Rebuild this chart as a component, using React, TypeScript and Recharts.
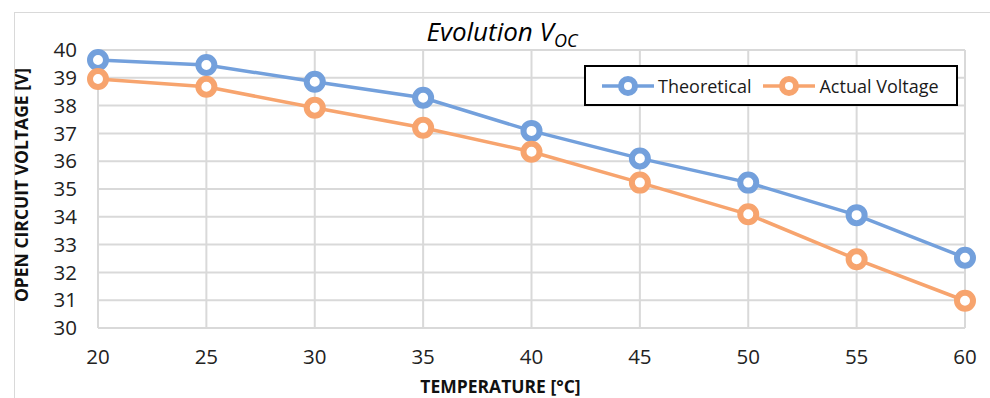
import { LineChart, Line, XAxis, YAxis, CartesianGrid, Label } from 'recharts'

const temperatures = [20, 25, 30, 35, 40, 45, 50, 55, 60]
const theoretical = [39.64, 39.46, 38.86, 38.28, 37.09, 36.1, 35.23, 34.06, 32.53]
const actualVoltage = [38.96, 38.68, 37.92, 37.2, 36.34, 35.23, 34.09, 32.47, 30.98]
const yTicks = [30, 31, 32, 33, 34, 35, 36, 37, 38, 39, 40]

const BLUE = '#73a0dc'
const ORANGE = '#f7a46e'
const FONT = '"Open Sans", sans-serif'

const series = [
  { key: 'theoretical', name: 'Theoretical', color: BLUE },
  { key: 'actual', name: 'Actual Voltage', color: ORANGE },
]

const data = temperatures.map((t, i) => ({
  temp: t,
  theoretical: theoretical[i],
  actual: actualVoltage[i],
}))

function LegendBox() {
  return (
    <div
      style={{
        position: 'absolute',
        left: 584,
        top: 65,
        width: 374,
        height: 41,
        border: '2px solid #000',
        display: 'flex',
        alignItems: 'center',
        paddingLeft: 16,
        fontFamily: FONT,
        fontSize: 18,
        color: '#1a1a1a',
        boxSizing: 'border-box',
        background: '#fff',
      }}
    >
      {series.map((s) => (
        <div key={s.key} style={{ display: 'flex', alignItems: 'center', marginRight: 12 }}>
          <svg width={52} height={24} style={{ marginRight: 4 }}>
            <line x1={0} y1={12} x2={52} y2={12} stroke={s.color} strokeWidth={3.5} />
            <circle cx={26} cy={12} r={7} fill="#fff" stroke={s.color} strokeWidth={6} />
          </svg>
          <span>{s.name}</span>
        </div>
      ))}
    </div>
  )
}

export default function App() {
  return (
    <div style={{ position: 'absolute', left: 0, top: 0, width: 990, height: 398, overflow: 'hidden', background: '#fff' }}>
      <div
        style={{
          position: 'absolute',
          left: 14,
          top: 12,
          width: 1000,
          height: 420,
          border: '1px solid #d9d9d9',
        }}
      />
      <div
        style={{
          position: 'absolute',
          left: 0,
          width: 1004,
          top: 13,
          textAlign: 'center',
          fontFamily: FONT,
          fontStyle: 'italic',
          fontSize: 26,
          color: '#000',
        }}
      >
        Evolution V<sub style={{ fontSize: 18 }}>OC</sub>
      </div>
      <LineChart
        width={990}
        height={398}
        data={data}
        margin={{ top: 50, right: 25, bottom: 0, left: 0 }}
        style={{ position: 'absolute', left: 0, top: 0 }}
      >
        <CartesianGrid stroke="#d9d9d9" strokeWidth={2} />
        <XAxis
          dataKey="temp"
          type="number"
          domain={[20, 60]}
          ticks={temperatures}
          height={70}
          tickSize={0}
          tickMargin={21}
          axisLine={false}
          tick={{ fontSize: 20.5, fill: '#222', fontFamily: FONT }}
        >
          <Label
            value="TEMPERATURE [°C]"
            position="insideBottom"
            offset={5}
            dx={-31}
            style={{ fontSize: 17.5, fontWeight: 700, fill: '#111', fontFamily: FONT }}
          />
        </XAxis>
        <YAxis
          type="number"
          domain={[30, 40]}
          ticks={yTicks}
          width={98}
          tickSize={0}
          tickMargin={21}
          axisLine={false}
          interval={0}
          tick={{ fontSize: 20.5, fill: '#222', fontFamily: FONT }}
        >
          <Label
            value="OPEN CIRCUIT VOLTAGE [V]"
            angle={-90}
            position="insideLeft"
            offset={22}
            dy={-4}
            style={{ textAnchor: 'middle', fontSize: 17.5, fontWeight: 700, fill: '#111', fontFamily: FONT }}
          />
        </YAxis>
        {series.map((s) => (
          <Line
            key={s.key}
            dataKey={s.key}
            name={s.name}
            stroke={s.color}
            strokeWidth={3.5}
            dot={{ r: 8, strokeWidth: 6, fill: '#fff', stroke: s.color }}
            isAnimationActive={false}
          />
        ))}
      </LineChart>
      <LegendBox />
    </div>
  )
}
